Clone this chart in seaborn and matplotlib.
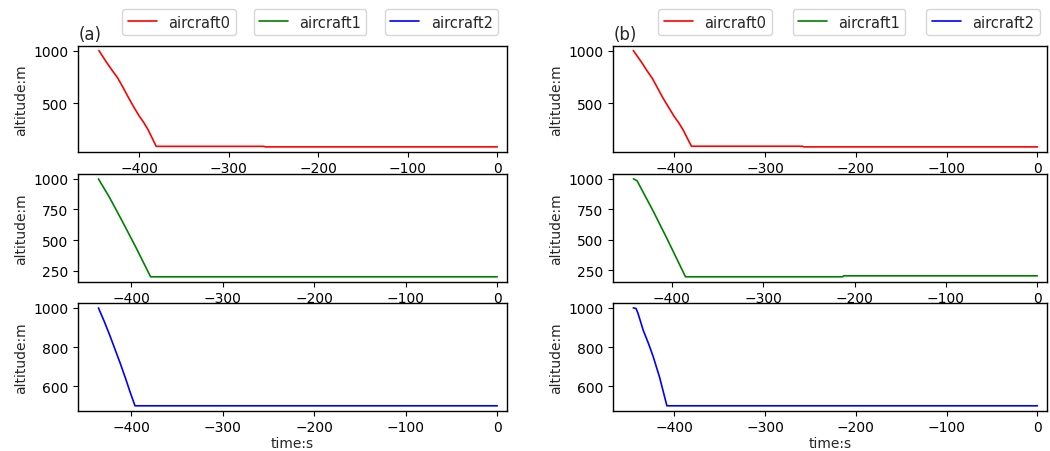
import matplotlib
matplotlib.use("Agg")
import matplotlib.pyplot as plt
import seaborn as sns

# ====================
# Datos
# ====================

labels = ["aircraft0", "aircraft1", "aircraft2"]
colors = ["red", "green", "blue"]

# panel (a)
a0_t = [-445, -437, -430, -424, -418, -412, -406, -400, -395, -390, -381, -261, -259, 0]
a0_alt = [1000, 895, 810, 740, 650, 555, 465, 380, 320, 250, 93, 93, 88, 88]
a1_t = [-436, -430, -424, -410, -395, -379, 0]
a1_alt = [1000, 925, 850, 655, 440, 200, 200]
a2_t = [-436, -430, -424, -418, -412, -406, -401, -396, 0]
a2_alt = [1000, 935, 865, 790, 715, 635, 565, 500, 500]

# panel (b)
b0_t = [-445, -436, -430, -424, -418, -412, -406, -400, -395, -390, -381, -259, -257, 0]
b0_alt = [1000, 890, 810, 735, 640, 545, 460, 375, 315, 245, 92, 92, 86, 86]
b1_t = [-442, -438, -432, -420, -405, -385, -213, -212, 0]
b1_alt = [1000, 985, 900, 730, 505, 195, 195, 203, 203]
b2_t = [-445, -442, -440, -434, -428, -423, -416, -408, 0]
b2_alt = [1000, 997, 975, 885, 815, 750, 645, 500, 500]

x_ticks = [-400, -300, -200, -100, 0]
y_ticks = [[500, 1000], [250, 500, 750, 1000], [600, 800, 1000]]
x_lims = {"(a)": [(-468, 10.5), (-458, 10.3), (-458, 10.3)],
          "(b)": [(-467, 10.5), (-464, 10.6), (-467, 10.5)]}

panels = {
    "(a)": [(a0_t, a0_alt), (a1_t, a1_alt), (a2_t, a2_alt)],
    "(b)": [(b0_t, b0_alt), (b1_t, b1_alt), (b2_t, b2_alt)],
}

# ====================
# Figura
# ====================

sns.set_style("ticks")
plt.rcParams["font.family"] = ["DejaVu Sans"]
plt.rcParams["font.size"] = 10

W, H = 1050, 452
fig = plt.figure(figsize=(W / 100, H / 100), dpi=100)

col_x = {"(a)": (78.3, 506.7), "(b)": (613.3, 1047)}
rows = [(46.7, 152.7), (175, 282.7), (304, 411.7)]
legend_cx = {"(a)": [179, 310, 441.5], "(b)": [715, 849, 983]}

for name, series in panels.items():
    x0, x1 = col_x[name]
    handles = []
    for i, (t, alt) in enumerate(series):
        top, bot = rows[i]
        ax = fig.add_axes([x0 / W, 1 - bot / H, (x1 - x0) / W, (bot - top) / H])
        sns.lineplot(x=t, y=alt, ax=ax, color=colors[i], lw=1.2,
                     estimator=None, sort=False)
        ax.set_xlim(*x_lims[name][i])
        ax.set_xticks(x_ticks)
        ax.set_yticks(y_ticks[i])
        ax.set_ylabel("altitude:m", labelpad=4)
        for sp in ax.spines.values():
            sp.set_color("black")
            sp.set_linewidth(1.0)
        ax.tick_params(colors="black", labelsize=10)
        if i == 0:
            ax.set_title(name, loc="left", fontsize=12, pad=5)
        if i == 2:
            ax.set_xlabel("time:s", labelpad=1)
        handles.append(ax.lines[0])

    # una caja de leyenda por cada avión
    for h, lab, cx in zip(handles, labels, legend_cx[name]):
        fig.legend([h], [lab], loc="center", bbox_to_anchor=(cx / W, 1 - 23 / H),
                   fontsize=10.5, handlelength=2.0, borderpad=0.35, framealpha=0.8)

fig.savefig("out.png", dpi=100)
